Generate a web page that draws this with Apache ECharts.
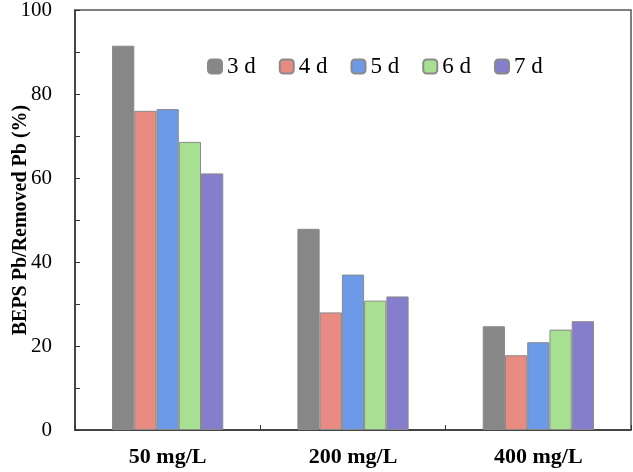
<!DOCTYPE html>
<html><head><meta charset="utf-8">
<script src="https://cdn.jsdelivr.net/npm/echarts@6/dist/echarts.min.js"></script>
<style>html,body{margin:0;padding:0;background:#fff}#c{width:633px;height:472px}</style>
</head><body><div id="c"></div>
<script>
const categories = ['50 mg/L', '200 mg/L', '400 mg/L'];
const seriesNames = ['3 d', '4 d', '5 d', '6 d', '7 d'];
const d3 = [91.5, 47.9, 24.7];
const d4 = [76.0, 28.0, 17.8];
const d5 = [76.4, 37.0, 20.9];
const d6 = [68.6, 30.8, 23.9];
const d7 = [61.1, 31.8, 25.9];
const colors = ['#878787', '#E88B83', '#6D9AE8', '#A8E092', '#857ECC'];
const yTicks = [0, 20, 40, 60, 80, 100];
const allData = [d3, d4, d5, d6, d7];

const chart = echarts.init(document.getElementById('c'));
const font = '"Liberation Serif", "Times New Roman", serif';
chart.setOption({
  animation: false,
  textStyle: { fontFamily: font },
  grid: { left: 75, right: 2, top: 10, bottom: 42, show: true, borderColor: '#555', borderWidth: 1.5,
          containLabel: false, outerBoundsMode: 'none' },
  legend: {
    data: seriesNames, left: 202, top: 50, itemWidth: 14, itemHeight: 14, itemGap: 23,
    textStyle: { fontFamily: font, fontSize: 23, color: '#000' }
  },
  xAxis: {
    type: 'category', data: categories,
    axisLine: { lineStyle: { color: '#333', width: 1.5 } },
    axisTick: { show: true, inside: true, length: 5, lineStyle: { color: '#333' } },
    axisLabel: { fontFamily: font, fontSize: 22, fontWeight: 'bold', color: '#000', margin: 16 }
  },
  yAxis: {
    type: 'value', min: yTicks[0], max: yTicks[yTicks.length - 1], interval: 20,
    name: 'BEPS Pb/Removed Pb (%)', nameLocation: 'middle', nameGap: 44, nameMoveOverlap: false,
    nameTextStyle: { fontFamily: font, fontSize: 20, fontWeight: 'bold', color: '#000' },
    axisLine: { show: true, lineStyle: { color: '#333', width: 1.5 } },
    axisTick: { show: true, inside: true, length: 5, lineStyle: { color: '#333' } },
    minorTick: { show: true, splitNumber: 2, length: 5, lineStyle: { color: '#333' } },
    splitLine: { show: false },
    axisLabel: { fontFamily: font, fontSize: 21, color: '#000', margin: 23 }
  },
  series: seriesNames.map((n, i) => ({
    name: n, type: 'bar', data: allData[i], barGap: '0%', barCategoryGap: '40%',
    itemStyle: { color: colors[i], borderColor: '#8a8a8a', borderWidth: 1 }
  }))
});
</script></body></html>
